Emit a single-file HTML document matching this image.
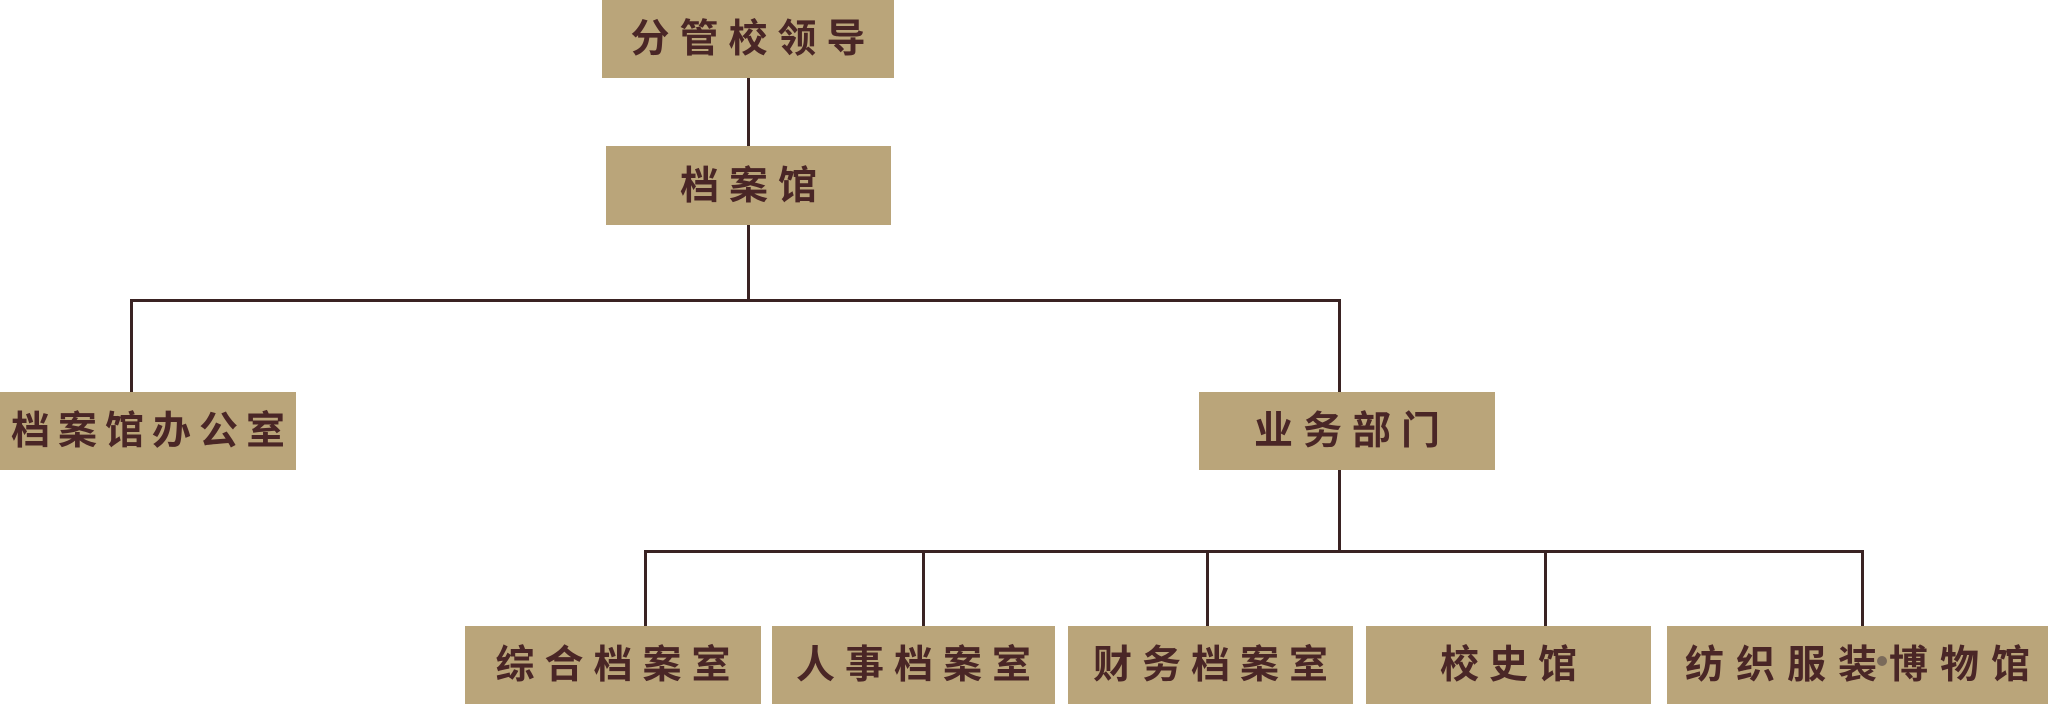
<!DOCTYPE html>
<html><head><meta charset="utf-8"><style>
html,body{margin:0;padding:0;background:#fff;}
body{width:2048px;height:704px;position:relative;overflow:hidden;}
.b{position:absolute;background:#baa57a;color:#4a2626;font-family:"Liberation Sans","Noto Sans CJK SC",sans-serif;font-weight:bold;font-size:39px;display:flex;align-items:center;justify-content:center;letter-spacing:10px;}
.b span{margin-right:-10px;margin-top:-6px;}
.l{position:absolute;background:#3a2323;}
</style></head><body>
<div class="l" style="left:747px;top:78px;width:3px;height:70px"></div>
<div class="l" style="left:747px;top:225px;width:3px;height:76px"></div>
<div class="l" style="left:130px;top:299px;width:1211px;height:3px"></div>
<div class="l" style="left:130px;top:299px;width:3px;height:94px"></div>
<div class="l" style="left:1338px;top:299px;width:3px;height:94px"></div>
<div class="l" style="left:1338px;top:470px;width:3px;height:82px"></div>
<div class="l" style="left:644px;top:550px;width:1220px;height:3px"></div>
<div class="l" style="left:644px;top:550px;width:3px;height:76px"></div>
<div class="l" style="left:922px;top:550px;width:3px;height:76px"></div>
<div class="l" style="left:1206px;top:550px;width:3px;height:76px"></div>
<div class="l" style="left:1544px;top:550px;width:3px;height:76px"></div>
<div class="l" style="left:1861px;top:550px;width:3px;height:76px"></div>

<div class="b" style="left:602px;top:0;width:292px;height:78px"><span>分管校领导</span></div>
<div class="b" style="left:606px;top:146px;width:285px;height:79px"><span>档案馆</span></div>
<div class="b" style="left:0;top:392px;width:296px;height:78px"><span style="letter-spacing:8px;margin-right:-8px">档案馆办公室</span></div>
<div class="b" style="left:1199px;top:392px;width:296px;height:78px"><span>业务部门</span></div>
<div class="b" style="left:465px;top:626px;width:296px;height:78px"><span>综合档案室</span></div>
<div class="b" style="left:772px;top:626px;width:283px;height:78px"><span>人事档案室</span></div>
<div class="b" style="left:1068px;top:626px;width:285px;height:78px"><span>财务档案室</span></div>
<div class="b" style="left:1366px;top:626px;width:285px;height:78px"><span>校史馆</span></div>
<div class="b" style="left:1667px;top:626px;width:381px;height:78px"><span style="letter-spacing:12px;margin-right:-12px">纺织服装博物馆</span></div>
<div style="position:absolute;left:1877px;top:656px;width:10px;height:10px;border-radius:50%;background:#7a6a5a"></div>
</body></html>
